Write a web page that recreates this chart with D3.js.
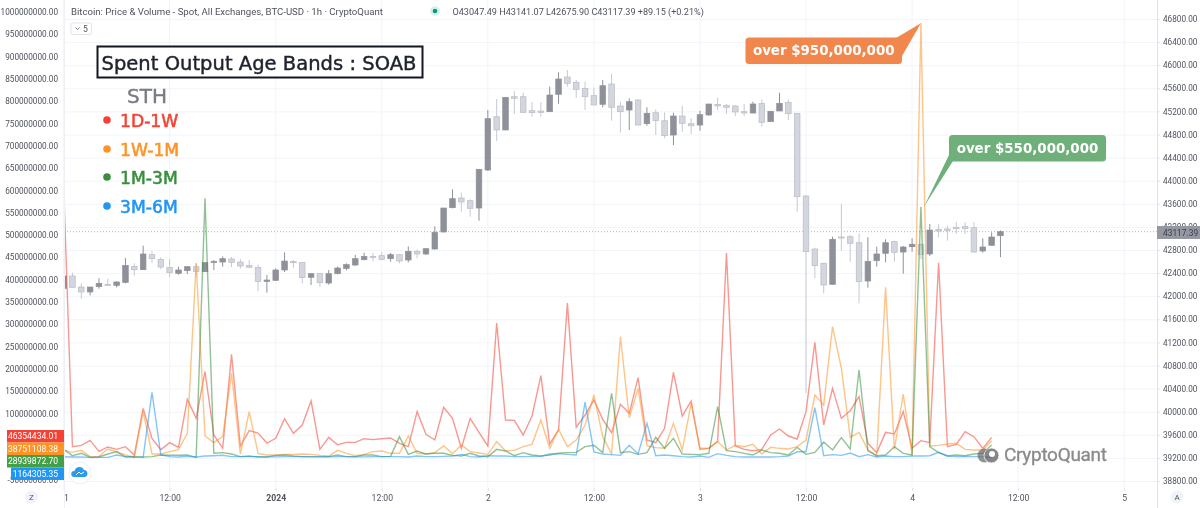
<!DOCTYPE html>
<html>
<head>
<meta charset="utf-8">
<script src="https://cdn.jsdelivr.net/npm/d3@7"></script>
<style>
html, body { margin: 0; padding: 0; background: #fff; }
svg { display: block; filter: blur(0.3px); }
text { font-family: Roboto, sans-serif; }
.axis .domain { display: none; }
.axis line { stroke: #e0e3eb; }
.axis text { fill: #50535e; font-size: 8.2px; }
.big { font-family: "DejaVu Sans", sans-serif; }
</style>
</head>
<body>
<div id="chart"></div>
<script>
// hours since 31 Dec 00:00, one candle per hour (array index = hour)
var xTickHours = [0, 12, 24, 36, 48, 60, 72, 84, 96, 108, 120];
var xTickLabels = ["31", "12:00", "2024", "12:00", "2", "12:00", "3", "12:00", "4", "12:00", "5"];
var priceTicks = [38800, 39200, 39600, 40000, 40400, 40800, 41200, 41600, 42000, 42400, 42800, 43200, 43600, 44000, 44400, 44800, 45200, 45600, 46000, 46400, 46800];
var volumeTicks = [-50, 0, 50, 100, 150, 200, 250, 300, 350, 400, 450, 500, 550, 600, 650, 700, 750, 800, 850, 900, 950, 1000];

// BTC-USD hourly candles
var candleOpen = [
  42136,42350,42159,42073,42165,42205,42188,42240,42517,42459,
  42719,42638,42500,42396,42442,42511,42425,42586,42592,42644,
  42592,42534,42500,42257,42275,42454,42598,42581,42327,42390,
  42228,42390,42482,42540,42632,42690,42702,42650,42719,42627,
  42777,42731,42817,43112,43533,43700,43654,43527,44185,45108,
  44878,45454,45454,45212,45207,45195,45496,45796,45704,45600,
  45472,45323,45674,45294,45224,45397,44987,45177,45039,44791,
  45120,44987,44964,45138,45323,45306,45294,45195,45172,45340,
  45022,45207,45358,45167,43735,42817,42570,42206,43025,43030,
  42926,42263,42615,42743,42944,42765,42857,42892,42731,43158,
  43164,43193,43210,43186,42783,42881,43047.49];
var candleHigh = [
  42350,42407,42223,42159,42309,42303,42257,42661,42569,42875,
  42783,42673,42644,42511,42523,42569,42581,42627,42690,42679,
  42644,42627,42546,42367,42482,42759,42627,42581,42390,42390,
  42454,42511,42569,42713,42754,42754,42765,42748,42719,42863,
  42811,42829,43210,43527,43850,43792,43678,44203,45224,45415,
  45444,45553,45524,45363,45358,45628,45877,45917,45744,45714,
  45610,45744,45848,45368,45427,45415,45271,45236,45184,45177,
  45294,45081,45212,45328,45437,45328,45311,45328,45368,45409,
  45202,45524,45409,45167,43752,42840,42570,43030,43597,43060,
  43089,43020,42857,42985,42961,42869,43002,42916,43250,43250,
  43221,43290,43280,43280,43002,43106,43141.07];
var candleLow = [
  42136,42153,41957,42015,42130,42188,42153,42223,42355,42454,
  42581,42465,42332,42373,42384,42338,42419,42454,42511,42505,
  42477,42488,42090,42061,42263,42419,42494,42223,42194,42159,
  42200,42379,42448,42523,42621,42604,42621,42598,42569,42586,
  42656,42713,42811,43106,43521,43463,43377,43307,44168,44687,
  44878,45155,45178,45108,45108,45195,45333,45628,45437,45224,
  45311,45271,45039,44831,44878,44964,44952,44791,44734,44618,
  44848,44809,44866,45126,45224,45155,45120,45120,45167,44935,
  45022,45207,45051,43463,40324,42310,42050,42199,42788,42597,
  41877,42147,42511,42587,42597,42390,42771,42644,42696,43020,
  42961,43077,43077,42753,42753,42875,42675.90];
var candleClose = [
  42350,42153,42073,42159,42223,42194,42246,42534,42459,42731,
  42650,42505,42407,42454,42511,42430,42581,42604,42650,42586,
  42523,42500,42252,42280,42454,42609,42586,42321,42390,42234,
  42390,42488,42546,42650,42690,42679,42638,42719,42609,42777,
  42731,42823,43106,43527,43689,43631,43522,44197,45074,44878,
  45444,45427,45184,45178,45184,45484,45761,45687,45583,45454,
  45311,45645,45271,45195,45368,44964,45167,45039,44779,45120,
  44994,44952,45143,45328,45294,45271,45190,45172,45328,45011,
  45202,45340,45160,43723,42771,42528,42194,42985,43013,42916,
  42251,42604,42731,42926,42760,42852,42899,42725,43146,43129,
  43141,43169,43169,42765,42852,43025,43117.39];

// spent output value per age band, in millions of USD
var band1D1W = [
  615,25.4,28.4,39.6,14.9,24.7,19.4,25.4,6.7,111.3,
  44.1,18.7,34.4,23.9,131.5,88.9,193.5,51.6,21.7,232.4,
  26.9,61.3,56,33.6,44.1,88.2,55.3,74,127.8,19.4,
  46.3,29.9,35.1,35.1,43.3,41.1,43.3,44.8,32.9,25.4,
  103.9,53,40.4,113.6,88.9,21.7,88.9,57.5,26.9,302.7,
  85.2,84.4,51.6,94.2,184.6,31.4,62.8,347.5,68.8,96.4,
  130,86.7,56.8,120.3,100.1,180.1,40.4,34.4,66.5,192.1,
  94.2,127.8,19.4,21.7,37.4,459.6,26.9,19.4,16.4,19.4,
  51.6,65,49.3,42.6,103.9,259.3,74,156.2,88.9,106.1,
  137.5,32.9,12,57.5,53.8,103.9,21.7,38.9,34.4,437.9,
  25.4,30.6,59,47.8,21.7,46.354434];
var band1W1M = [
  17.9,12.7,17.2,3,3.7,20.2,13.5,6.7,1.5,103.9,
  9,9,14.2,18.7,55.3,437.2,49.3,34.4,47.8,189.8,
  9,103.9,10.5,6.7,6.7,8.2,8.2,9,8.2,6,
  4.5,17.2,10.5,5.2,8.2,14.2,15.7,10.5,10.5,49.3,
  10.5,9,12,26.9,9.7,29.1,14.2,11.2,8.2,36.6,
  16.4,17.2,25.4,30.6,85.2,21.7,64.3,25.4,40.4,74,
  141.2,47.8,9,272,90.4,156.2,27.7,23.2,21.7,77.7,
  17.9,122.6,21.7,21.7,36.6,17.9,28.4,25.4,30.6,9,
  23.9,21.7,20.2,25.4,40.4,141.2,118.8,294.4,201,46.3,
  57.5,17.9,4.5,382.6,19.4,143.5,6.7,975,26.9,28.4,
  31.4,32.9,19.4,17.9,17.9,38.751108];
var band1M3M = [
  19.4,5.2,10.5,1.5,2.2,9,14.2,2.2,3.7,2.2,
  3,6.7,6,6,6.7,1.5,582.3,10.5,12,9,
  3,4.5,2.2,2.2,6,6.7,4.5,3,3,3,
  3,6.7,3,3,6.7,6.7,3,3.7,47.8,8.2,
  15.7,9,10.5,10.5,6,4.5,10.5,4.5,3,19.4,
  15.7,5.2,12,6.7,4.5,6.7,10.5,12,12.7,25.4,
  28.4,12,145,12,14.2,8.2,12,46.3,21.7,44.1,
  9,8.2,7.5,10.5,115.1,16.4,14.2,10.5,6.7,17.9,
  12,10.5,6.7,23.9,8.2,12.7,35.9,17.9,45.6,20.2,
  197.3,16.4,5.2,6.7,25.4,10.5,6.7,563.4,25.4,12,
  4.5,6.7,5.2,9,10.5,28.939872];
var band3M6M = [
  3,2.2,2.2,1.5,1.5,1.5,6.7,3,1.5,1.5,
  147.2,6.7,3,2.2,3.7,2.2,4.5,5.2,6,3,
  3,3,3,2.5,2.5,3,3,3,2.5,2.5,
  2.5,3,3,2.5,2.5,3,3,3,3,2.2,
  4.5,3,3,3.7,4.5,8.2,3,2.2,5.2,4.5,
  4.5,3,3,3.7,3.7,9,9.7,8.2,6.7,125.5,
  13.5,9,7.5,6,28.4,9,77.7,5.2,6.7,5.2,
  3,2.2,4.5,1.5,9.7,6,3,2.2,2.2,2.2,
  2.2,3,4.5,14,14,112.8,5.2,7.5,6,11.2,
  3,7.5,2.2,4.5,3,3,4.5,4.5,5.2,12.7,
  4.5,3,3.7,3,3,1.164305];

var legendNames = ["1D-1W", "1W-1M", "1M-3M", "3M-6M"];
var legendColors = ["#f44336", "#ff9326", "#388e3c", "#2196f3"];
var lastTags = ["46354434.01", "38751108.38", "28939872.70", "1164305.35"];
var bands = [band1D1W, band1W1M, band1M3M, band3M6M];

var width = 1200, height = 508;
var paneLeft = 64, paneRight = 1157;

var svg = d3.select("#chart").append("svg").attr("width", width).attr("height", height);

var x = d3.scaleLinear().domain([0, 120]).range([63.6, 1124.2]);
var yPrice = d3.scaleLinear().domain([38800, 46800]).range([481, 19]);
var yVol = d3.scaleLinear().domain([0, 1000]).range([458, 12]);

var defs = svg.append("defs");
defs.append("clipPath").attr("id", "pane").append("rect")
  .attr("x", paneLeft).attr("y", 0).attr("width", paneRight - paneLeft).attr("height", 490);
defs.append("clipPath").attr("id", "xclip").append("rect")
  .attr("x", paneLeft).attr("y", 488).attr("width", paneRight - paneLeft).attr("height", 20);

// grid
svg.append("g").selectAll("line").data(priceTicks).enter().append("line")
  .attr("x1", paneLeft).attr("x2", paneRight)
  .attr("y1", function(d) { return yPrice(d) + 0.5; }).attr("y2", function(d) { return yPrice(d) + 0.5; })
  .attr("stroke", "#f2f4fa");
svg.append("g").selectAll("line").data(xTickHours).enter().append("line")
  .attr("x1", function(d) { return x(d); }).attr("x2", function(d) { return x(d); })
  .attr("y1", 0).attr("y2", 490)
  .attr("stroke", "#f2f4fa");

// current price line
svg.append("line")
  .attr("x1", paneLeft).attr("x2", paneRight)
  .attr("y1", yPrice(43117.39)).attr("y2", yPrice(43117.39))
  .attr("stroke", "#b2b5be").attr("stroke-dasharray", "1 2");

var pane = svg.append("g").attr("clip-path", "url(#pane)");

// candles
var candles = pane.append("g").selectAll("g").data(candleOpen).enter().append("g");
candles.append("line")
  .attr("x1", function(d, i) { return x(i); }).attr("x2", function(d, i) { return x(i); })
  .attr("y1", function(d, i) { return yPrice(candleHigh[i]); })
  .attr("y2", function(d, i) { return yPrice(candleLow[i]); })
  .attr("stroke", function(d, i) { return candleClose[i] >= d ? "#8f919a" : "#c6c9d2"; })
  .attr("stroke-width", 1);
candles.append("rect")
  .attr("x", function(d, i) { return x(i) - 2.8; })
  .attr("width", 5.6)
  .attr("y", function(d, i) { return yPrice(Math.max(d, candleClose[i])); })
  .attr("height", function(d, i) { return Math.max(1, Math.abs(yPrice(d) - yPrice(candleClose[i]))); })
  .attr("fill", function(d, i) { return candleClose[i] >= d ? "#8f919a" : "#d3d6de"; })
  .attr("stroke", function(d, i) { return candleClose[i] >= d ? "#8f919a" : "#b9bcc5"; })
  .attr("stroke-width", 0.7);

// age band lines
var line = d3.line()
  .x(function(d, i) { return x(i); })
  .y(function(d) { return yVol(d); });
pane.append("g").selectAll("path").data(bands).enter().append("path")
  .attr("d", line)
  .attr("fill", "none")
  .attr("stroke", function(d, i) { return legendColors[i]; })
  .attr("stroke-opacity", 0.55)
  .attr("stroke-width", 1.4);

// axes
var axisRight = d3.axisRight(yPrice).tickValues(priceTicks).tickSize(3).tickPadding(3)
  .tickFormat(function(d) { return d.toFixed(2); });
svg.append("g").attr("class", "axis").attr("transform", "translate(" + paneRight + ",0)").call(axisRight);

var axisLeft = d3.axisLeft(yVol).tickValues(volumeTicks).tickSize(0).tickPadding(6)
  .tickFormat(function(d) { return (d * 1e6).toFixed(2); });
svg.append("g").attr("class", "axis").attr("transform", "translate(" + paneLeft + ",0)").call(axisLeft);

var axisBottom = d3.axisBottom(x).tickValues(xTickHours).tickSize(3).tickPadding(4)
  .tickFormat(function(d, i) { return xTickLabels[i]; });
var xAxis = svg.append("g").attr("class", "axis").attr("clip-path", "url(#xclip)")
  .append("g").attr("transform", "translate(0,488)").call(axisBottom);
xAxis.selectAll("text").style("font-size", "8.6px").style("font-weight", function(d, i) { return xTickLabels[i] == "2024" ? 700 : 400; });

svg.append("line").attr("x1", paneRight + 0.5).attr("x2", paneRight + 0.5).attr("y1", 0).attr("y2", 508).attr("stroke", "#dfe2ea");
svg.append("line").attr("x1", paneLeft + 0.5).attr("x2", paneLeft + 0.5).attr("y1", 0).attr("y2", 508).attr("stroke", "#eef0f6");

// last price tag
svg.append("rect").attr("x", paneRight).attr("y", 226).attr("width", 43).attr("height", 13).attr("fill", "#9598a1");
svg.append("text").attr("x", paneRight + 6).attr("y", 235.5).attr("fill", "#3c3f49").style("font-size", "8.4px").text("43117.39");

// last value tags on the left
var tagTops = [430, 442.5, 455, 467.5];
var tagLefts = [7, 7, 7, 11];
lastTags.forEach(function(t, i) {
  svg.append("rect").attr("x", tagLefts[i]).attr("y", tagTops[i]).attr("width", paneLeft - tagLefts[i]).attr("height", 12.5).attr("fill", legendColors[i] == "#388e3c" ? "#43a047" : legendColors[i]);
  svg.append("text").attr("x", 58).attr("y", tagTops[i] + 9.3).attr("text-anchor", "end").attr("fill", "#fff").style("font-size", "8.5px").text(t);
});

// header
svg.append("text").attr("x", 71).attr("y", 14.5).attr("fill", "#50535e").style("font-size", "9.6px")
  .text("Bitcoin: Price & Volume - Spot, All Exchanges, BTC-USD · 1h · CryptoQuant");
svg.append("circle").attr("cx", 435).attr("cy", 11).attr("r", 5).attr("fill", "#089981").attr("fill-opacity", 0.15);
svg.append("circle").attr("cx", 435).attr("cy", 11).attr("r", 2.3).attr("fill", "#089981");
svg.append("text").attr("x", 452.5).attr("y", 15.3).attr("fill", "#50535e").style("font-size", "9.1px")
  .text("O43047.49  H43141.07  L42675.90  C43117.39  +89.15 (+0.21%)");

// collapsed indicators button
svg.append("rect").attr("x", 71).attr("y", 23).attr("width", 20.5).attr("height", 11.5).attr("rx", 1.5).attr("fill", "#fff").attr("stroke", "#e0e3eb");
svg.append("path").attr("d", "M75.5 27.5l2 2l2-2").attr("fill", "none").attr("stroke", "#50535e").attr("stroke-width", 0.8);
svg.append("text").attr("x", 83).attr("y", 31.5).attr("fill", "#50535e").style("font-size", "8.6px").text("5");

// title box and legend
svg.append("rect").attr("x", 97.5).attr("y", 46.5).attr("width", 325).attr("height", 31).attr("fill", "#fff").attr("stroke", "#131722").attr("stroke-width", 2);
svg.append("text").attr("class", "big").attr("x", 101.5).attr("y", 70).attr("fill", "#1e222d").attr("stroke", "#1e222d").attr("stroke-width", 0.45).style("font-size", "19.5px").attr("textLength", 315).text("Spent Output Age Bands : SOAB");
svg.append("text").attr("class", "big").attr("x", 127).attr("y", 103).attr("fill", "#787b86").attr("stroke", "#787b86").attr("stroke-width", 0.4).style("font-size", "20px").text("STH");

var legendY = [120, 149, 177, 206];
legendNames.forEach(function(n, i) {
  svg.append("circle").attr("cx", 107).attr("cy", legendY[i]).attr("r", 3.8).attr("fill", legendColors[i]);
  svg.append("text").attr("class", "big").attr("x", 120).attr("y", legendY[i] + 6.5)
    .attr("fill", legendColors[i]).attr("stroke", legendColors[i]).attr("stroke-width", 0.55)
    .style("font-size", "17.2px").text(n);
});

// callouts, tail tips sit on the peaks of the band lines
function callout(bx, by, bw, bh, tail, fill, label) {
  svg.append("path").attr("d", "M" + tail.join(" L") + " Z").attr("fill", fill);
  svg.append("rect").attr("x", bx).attr("y", by).attr("width", bw).attr("height", bh).attr("rx", 3.5).attr("fill", fill);
  svg.append("text").attr("class", "big").attr("x", bx + bw / 2).attr("y", by + bh / 2 + 4.6)
    .attr("text-anchor", "middle").attr("fill", "#fff").style("font-size", "13.4px").style("font-weight", 700).text(label);
}
callout(745.5, 37.5, 156.5, 26.5, [[896, 38], [x(97), yVol(975)], [902, 56]], "#f2874d", "over $950,000,000");
callout(949, 135, 157, 26.5, [[949, 155], [x(97) + 3, yVol(563.4)], [953, 161]], "#6fb07a", "over $550,000,000");

// watermark
var mark = svg.append("g").attr("opacity", 0.7);
mark.append("circle").attr("cx", 984.5).attr("cy", 455.5).attr("r", 7).attr("fill", "#666");
mark.append("circle").attr("cx", 991.5).attr("cy", 455.5).attr("r", 7.5).attr("fill", "#555").attr("stroke", "#fff").attr("stroke-width", 0.8);
mark.append("circle").attr("cx", 992).attr("cy", 454).attr("r", 3).attr("fill", "#fff");
svg.append("text").attr("x", 1004).attr("y", 461).attr("fill", "#8a8a8a").attr("stroke", "#8a8a8a").attr("stroke-width", 0.3).style("font-size", "19px").attr("textLength", 103).text("CryptoQuant");

// round buttons and cloud icon
svg.append("circle").attr("cx", 80).attr("cy", 473).attr("r", 11).attr("fill", "#fff").attr("stroke", "#eceef3");
svg.append("path").attr("d", "M74 477a3 3 0 0 1 0.5-6a5 5 0 0 1 9.5-1a3.6 3.6 0 0 1 1 7z").attr("fill", "#2a9bea");
svg.append("path").attr("d", "M76 475l3-3l2 2l3-2").attr("fill", "none").attr("stroke", "#fff").attr("stroke-width", 1);
[[31.5, 497, "Z"], [1177, 497, "A"]].forEach(function(b) {
  svg.append("circle").attr("cx", b[0]).attr("cy", b[1]).attr("r", 6.5).attr("fill", "#f0f3fa");
  svg.append("text").attr("x", b[0]).attr("y", b[1] + 3).attr("text-anchor", "middle").attr("fill", "#50535e").style("font-size", "8px").text(b[2]);
});
</script>
</body>
</html>
